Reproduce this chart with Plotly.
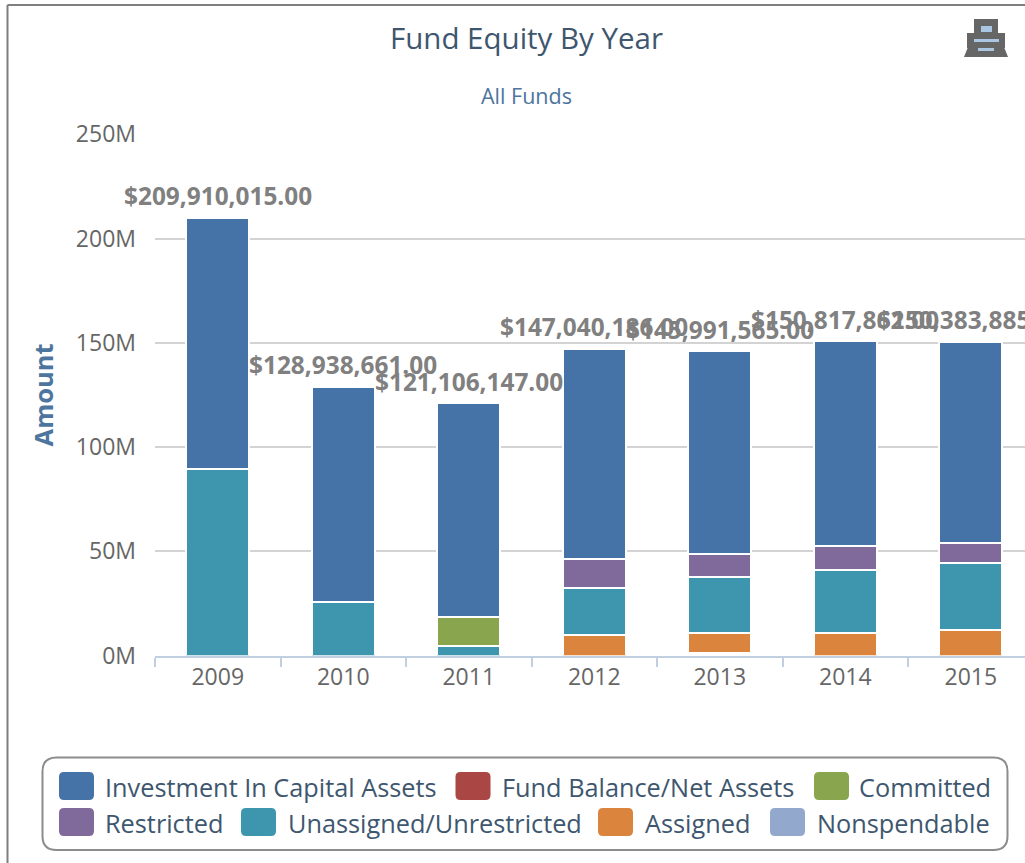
import plotly.graph_objects as go

W, H = 1025, 863

years = ["2009", "2010", "2011", "2012", "2013", "2014", "2015"]
totals = [209910015, 128938661, 121106147, 147040186, 145991565, 150817862, 150383885]

# segment values, millions
lift = [None, None, None, None, 1.3, None, None]
assigned = [None, None, None, 9.8, 9.6, 10.9, 12.0]
unassigned = [89.6, 25.9, 4.5, 22.6, 26.8, 30.0, 32.2]
restricted = [None, None, None, 13.9, 10.8, 11.8, 9.8]
committed = [None, None, 14.0, None, None, None, None]
capital = [120.3, 103.0, 102.6, 100.7, 97.5, 98.1, 96.4]

series_names = ["Investment In Capital Assets", "Fund Balance/Net Assets", "Committed",
                "Restricted", "Unassigned/Unrestricted", "Assigned", "Nonspendable"]
series_colors = ["#4572A7", "#AA4643", "#89A54E", "#80699B", "#3D96AE", "#DB843D", "#92A8CD"]
y_tick_vals = [0, 50, 100, 150, 200, 250]
y_tick_text = ["0M", "50M", "100M", "150M", "200M", "250M"]

FONT = "Open Sans"
TITLE_C = "#3E576F"
SUB_C = "#4D759E"
TICK_C = "#666666"
LABEL_C = "#808080"


def px(x):
    return x / W


def py(y):
    return 1 - y / H


def rect(x0, y0, x1, y1, fill, line=None, lw=0):
    return dict(type="rect", xref="paper", yref="paper", x0=px(x0), x1=px(x1), y0=py(y1), y1=py(y0),
                fillcolor=fill, line=dict(color=line or fill, width=lw), layer="above")


def rrect(x0, y0, x1, y1, r, fill, line, lw):
    def p(x, y):
        return f"{px(x):.5f},{py(y):.5f}"
    d = (f"M {p(x0+r,y0)} L {p(x1-r,y0)} Q {p(x1,y0)} {p(x1,y0+r)} L {p(x1,y1-r)} Q {p(x1,y1)} {p(x1-r,y1)} "
         f"L {p(x0+r,y1)} Q {p(x0,y1)} {p(x0,y1-r)} L {p(x0,y0+r)} Q {p(x0,y0)} {p(x0+r,y0)} Z")
    return dict(type="path", xref="paper", yref="paper", path=d, fillcolor=fill,
                line=dict(color=line, width=lw), layer="above")


fig = go.Figure()
fig.add_bar(x=years, y=lift, marker=dict(color="rgba(0,0,0,0)", line=dict(width=0)),
            showlegend=False, hoverinfo="skip")
for name, vals, col in [("Assigned", assigned, series_colors[5]),
                        ("Unassigned/Unrestricted", unassigned, series_colors[4]),
                        ("Restricted", restricted, series_colors[3]),
                        ("Committed", committed, series_colors[2]),
                        ("Investment In Capital Assets", capital, series_colors[0])]:
    fig.add_bar(x=years, y=vals, name=name, showlegend=False,
                marker=dict(color=col, line=dict(color="#FFFFFF", width=2)))

annotations = [
    dict(text="Fund Equity By Year", xref="paper", yref="paper", x=px(526), y=py(37), showarrow=False,
         xanchor="center", yanchor="middle", font=dict(family=FONT, size=29.5, color=TITLE_C)),
    dict(text="All Funds", xref="paper", yref="paper", x=px(526), y=py(96), showarrow=False,
         xanchor="center", yanchor="middle", font=dict(family=FONT, size=21.5, color=SUB_C)),
]
for i, t in enumerate(totals):
    annotations.append(dict(text=f"<b>${t:,.2f}</b>", x=i, y=t / 1e6, xref="x", yref="y", showarrow=False,
                            yshift=22, xanchor="center", yanchor="middle",
                            font=dict(family=FONT, size=24.4, color=LABEL_C)))

shapes = [
    dict(type="line", xref="paper", yref="paper", x0=px(7.5), x1=px(7.5), y0=0, y1=py(5),
         line=dict(color="#7F7F7F", width=2), layer="above"),
    dict(type="line", xref="paper", yref="paper", x0=px(7.5), x1=1, y0=py(5), y1=py(5),
         line=dict(color="#7F7F7F", width=2), layer="above"),
    rrect(42.5, 757.5, 1007.5, 850, 14, "#FFFFFF", "#8C8C8C", 2),
    # printer icon
    rect(974, 19, 998, 34, "#666666"),
    rect(967, 33, 1005, 48, "#666666"),
    dict(type="path", xref="paper", yref="paper", line=dict(width=0), fillcolor="#666666", layer="above",
         path=f"M {px(968)},{py(47)} L {px(1004)},{py(47)} L {px(1008)},{py(57)} L {px(964)},{py(57)} Z"),
    rect(981, 26, 992, 32, "#A9C6E3"),
    rect(974, 39, 999, 42, "#A9C6E3"),
    rect(978, 48, 994, 51, "#A9C6E3"),
]

# legend swatches and labels
legend_layout = [(59, 772, 103), (455.5, 772, 499.5), (814, 772, 857),
                 (59, 808, 103), (241, 808, 286), (598, 808, 643), (770, 808, 815)]
for name, col, (sx, sy, tx) in zip(series_names, series_colors, legend_layout):
    shapes.append(rrect(sx, sy, sx + 35, sy + 28, 5, col, col, 0))
    annotations.append(dict(text=name, xref="paper", yref="paper", x=px(tx), y=py(sy + 15), showarrow=False,
                            xanchor="left", yanchor="middle", font=dict(family=FONT, size=25.3, color=TITLE_C)))

fig.update_layout(
    width=W, height=H, autosize=False, barmode="stack", showlegend=False,
    paper_bgcolor="#FFFFFF", plot_bgcolor="#FFFFFF", bargap=0.50,
    margin=dict(l=0, r=0, t=0, b=0, autoexpand=False),
    annotations=annotations, shapes=shapes,
    xaxis=dict(domain=[px(155), 1], type="category", range=[-0.5, 6.432], tickson="boundaries",
               ticks="outside", ticklen=9, tickwidth=2, tickcolor="#C0D0E0", automargin=False,
               showline=True, linecolor="#C0D0E0", linewidth=2, showgrid=False, zeroline=False,
               tickfont=dict(family=FONT, size=23, color=TICK_C), anchor="y", ticklabelstandoff=0),
    yaxis=dict(domain=[py(655.5), py(134.3)], range=[0, 250], tickvals=y_tick_vals, ticktext=y_tick_text,
               showgrid=True, gridcolor="#D3D3D3", gridwidth=2, zeroline=False, showline=False, automargin=False,
               ticks="", ticklabelstandoff=18, anchor="x",
               tickfont=dict(family=FONT, size=23, color=TICK_C),
               title=dict(text="<b>Amount</b>", standoff=14, font=dict(family=FONT, size=25.5, color=SUB_C))),
)

fig.write_html("out.html", config=dict(displayModeBar=False),
               post_script="document.body.style.margin='0';document.body.style.overflow='hidden';")
